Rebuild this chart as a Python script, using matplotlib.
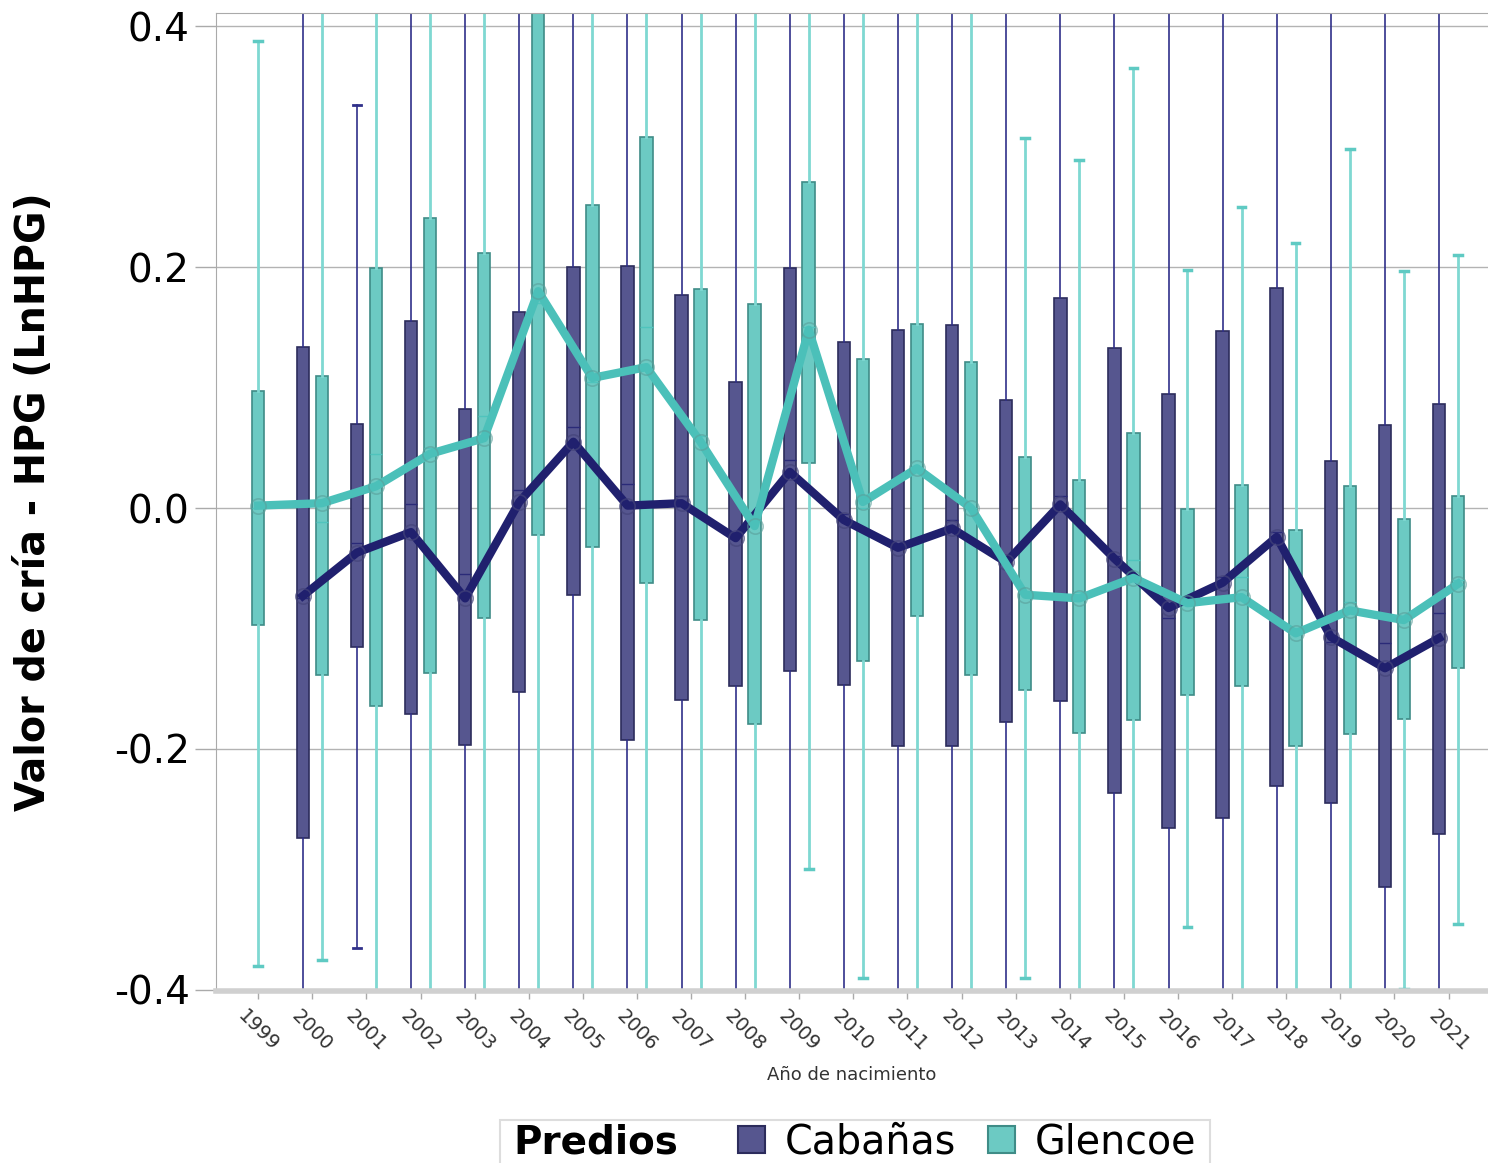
import numpy as np
import matplotlib
matplotlib.use("Agg")
import matplotlib.pyplot as plt
from matplotlib.patches import Patch, Rectangle

# Cabañas (2000-2021)
cab_years = list(range(2000, 2022))
cab_q3 = [0.134, 0.070, 0.155, 0.082, 0.163, 0.200, 0.201, 0.177, 0.105, 0.199, 0.138,
          0.148, 0.152, 0.090, 0.174, 0.133, 0.095, 0.147, 0.183, 0.039, 0.069, 0.086]
cab_q1 = [-0.274, -0.115, -0.171, -0.197, -0.153, -0.072, -0.193, -0.159, -0.148, -0.135, -0.147,
          -0.198, -0.198, -0.178, -0.160, -0.237, -0.266, -0.257, -0.231, -0.245, -0.315, -0.271]
cab_med = [-0.075, -0.029, 0.003, -0.055, 0.015, 0.067, 0.020, 0.010, -0.020, 0.040, -0.005,
           -0.030, -0.010, -0.040, 0.010, -0.040, -0.091, -0.057, -0.020, -0.111, -0.112, -0.087]
cab_mean = [-0.073, -0.037, -0.020, -0.075, 0.005, 0.055, 0.002, 0.004, -0.025, 0.030, -0.010,
            -0.033, -0.017, -0.045, 0.003, -0.042, -0.083, -0.062, -0.024, -0.107, -0.133, -0.108]
cab_whishi = [0.60, 0.335, 0.60, 0.60, 0.60, 0.60, 0.60, 0.60, 0.60, 0.60, 0.60,
              0.60, 0.60, 0.60, 0.60, 0.60, 0.60, 0.60, 0.60, 0.60, 0.60, 0.60]
cab_whislo = [-0.60, -0.365, -0.60, -0.60, -0.60, -0.60, -0.60, -0.60, -0.60, -0.60, -0.60,
              -0.60, -0.60, -0.60, -0.60, -0.60, -0.60, -0.60, -0.60, -0.60, -0.60, -0.60]

# Glencoe (1999-2021)
gle_years = list(range(1999, 2022))
gle_q3 = [0.097, 0.110, 0.199, 0.241, 0.212, 0.430, 0.252, 0.308, 0.182, 0.169, 0.271, 0.124,
          0.153, 0.121, 0.042, 0.023, 0.062, -0.001, 0.019, -0.018, 0.018, -0.009, 0.010]
gle_q1 = [-0.097, -0.139, -0.164, -0.137, -0.091, -0.022, -0.032, -0.062, -0.093, -0.179, 0.037, -0.127,
          -0.090, -0.139, -0.151, -0.187, -0.176, -0.155, -0.148, -0.198, -0.188, -0.175, -0.133]
gle_med = [0.000, -0.012, 0.045, 0.050, 0.076, 0.170, 0.105, 0.150, 0.060, -0.010, 0.150, 0.000,
           0.030, 0.000, -0.070, -0.070, -0.043, -0.080, -0.057, -0.100, -0.078, -0.090, -0.060]
gle_mean = [0.002, 0.004, 0.018, 0.045, 0.058, 0.180, 0.108, 0.117, 0.055, -0.015, 0.148, 0.005,
            0.033, 0.000, -0.072, -0.075, -0.058, -0.079, -0.074, -0.104, -0.085, -0.093, -0.063]
gle_whishi = [0.388, 0.60, 0.60, 0.60, 0.60, 0.60, 0.60, 0.60, 0.60, 0.60, 0.60, 0.60,
              0.60, 0.60, 0.307, 0.289, 0.365, 0.198, 0.250, 0.220, 0.298, 0.197, 0.210]
gle_whislo = [-0.380, -0.375, -0.60, -0.60, -0.60, -0.60, -0.60, -0.60, -0.60, -0.60, -0.300, -0.390,
              -0.60, -0.60, -0.390, -0.60, -0.60, -0.348, -0.60, -0.60, -0.60, -0.399, -0.345]

cab_face, cab_edge, cab_line = '#56568f', '#2c2c5c', '#20206e'
gle_face, gle_edge, gle_line = '#6ccac3', '#3f8c87', '#4bc0b9'


def make_stats(q1, q3, med, mean, lo, hi):
    return [dict(q1=a, q3=b, med=c, mean=d, whislo=e, whishi=f, fliers=[])
            for a, b, c, d, e, f in zip(q1, q3, med, mean, lo, hi)]


fig = plt.figure(figsize=(14.88, 11.63), dpi=100)
ax = fig.add_axes([216 / 1488, 1 - 991 / 1163, 1 - 216 / 1488, (991 - 13) / 1163])

off = 0.175
cab_pos = [y - off for y in cab_years]
gle_pos = [y + off if y != 1999 else y for y in gle_years]

ax.bxp(make_stats(cab_q1, cab_q3, cab_med, cab_mean, cab_whislo, cab_whishi),
       positions=cab_pos, widths=0.23, capwidths=0.14, patch_artist=True, manage_ticks=False,
       boxprops=dict(facecolor=cab_face, edgecolor=cab_edge, linewidth=1.2),
       whiskerprops=dict(color='#30308a', linewidth=1.2),
       capprops=dict(color='#30308a', linewidth=2),
       medianprops=dict(color='#2a2a78', linewidth=1))
ax.bxp(make_stats(gle_q1, gle_q3, gle_med, gle_mean, gle_whislo, gle_whishi),
       positions=gle_pos, widths=0.23, capwidths=0.14, patch_artist=True, manage_ticks=False,
       boxprops=dict(facecolor=gle_face, edgecolor=gle_edge, linewidth=1.2),
       whiskerprops=dict(color='#7fd8d2', linewidth=2),
       capprops=dict(color='#5fcac3', linewidth=2.5),
       medianprops=dict(color='#4fc4bd', linewidth=1))

ax.plot(cab_pos, cab_mean, color=cab_line, linewidth=6, zorder=5)
ax.plot(cab_pos, cab_mean, linestyle='none', marker='o', markersize=11,
        markerfacecolor='none', markeredgecolor='#44447a', markeredgewidth=1.2,
        alpha=0.7, zorder=5)
ax.plot(gle_pos, gle_mean, color=gle_line, linewidth=6, zorder=6)
ax.plot(gle_pos, gle_mean, linestyle='none', marker='o', markersize=11,
        markerfacecolor='none', markeredgecolor='#5a9f9a', markeredgewidth=1.2,
        alpha=0.6, zorder=6)

ax.set_xlim(1998.22, 2021.73)
ax.set_ylim(-0.401, 0.411)
ax.set_yticks([-0.4, -0.2, 0.0, 0.2, 0.4])
ax.set_yticklabels(['-0.4', '-0.2', '0.0', '0.2', '0.4'], fontsize=28)
ax.set_xticks(gle_years)
ax.set_xticklabels([str(y) for y in gle_years], rotation=-45, ha='center', va='top',
                   fontsize=14, color='#333333')
ax.tick_params(axis='y', length=15, width=1, color='#aaaaaa', pad=4)
ax.tick_params(axis='x', length=6, width=1, color='#aaaaaa', pad=5)
ax.grid(axis='y', color='#b3b3b3', linewidth=1)
ax.set_axisbelow(True)

ax.spines['right'].set_visible(False)
ax.spines['left'].set_color('#aaaaaa')
ax.spines['top'].set_color('#aaaaaa')
ax.spines['bottom'].set_color('#d0d0d0')
ax.spines['bottom'].set_linewidth(4)

ax.set_xlabel('Año de nacimiento', fontsize=13, color='#333333', labelpad=8)
ax.set_ylabel('Valor de cría - HPG (LnHPG)', fontsize=28.5, fontweight='bold')
ax.yaxis.set_label_coords(-(216 - 54) / 1272, 0.5)

# legend at bottom
fig.patches.append(Rectangle((500 / 1488, -0.01), 710 / 1488, (1163 - 1120) / 1163 + 0.01,
                             transform=fig.transFigure, facecolor='white',
                             edgecolor='#dddddd', linewidth=1.5))
fig.text(513 / 1488, 1 - 1142 / 1163, 'Predios', fontsize=28, fontweight='bold',
         va='center', ha='left')
handles = [Patch(facecolor=cab_face, edgecolor=cab_edge, linewidth=1.5, label='Cabañas'),
           Patch(facecolor=gle_face, edgecolor=gle_edge, linewidth=1.5, label='Glencoe')]
fig.legend(handles=handles, loc='center left', bbox_to_anchor=(738 / 1488, 1 - 1142 / 1163),
           ncol=2, frameon=False, fontsize=28.5, handlelength=0.68, handleheight=0.68,
           handletextpad=0.5, columnspacing=0.8, borderpad=0, borderaxespad=0)

fig.savefig('out.png', dpi=100)
